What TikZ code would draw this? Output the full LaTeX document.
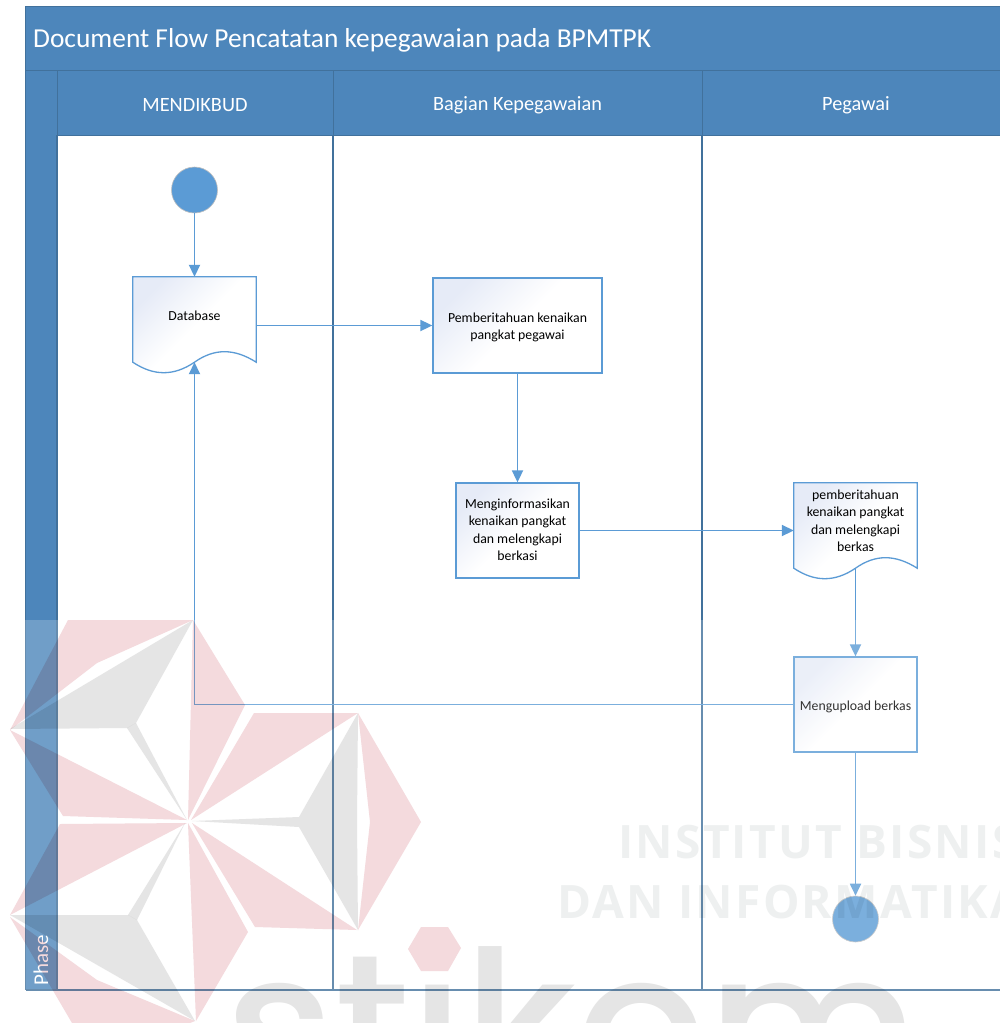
\documentclass[tikz,border=0pt]{standalone}
\usepackage{fontspec}
\setmainfont{Carlito}
\newfontfamily\wmfont[LetterSpace=5]{Open Sans}
\newfontfamily\stfont[UprightFont={* Medium}]{Poppins}
\usetikzlibrary{arrows.meta,calc}
\definecolor{band}{HTML}{4D86BB}
\definecolor{edge}{HTML}{41719C}
\definecolor{conn}{HTML}{5B9BD5}
\definecolor{wmpink}{HTML}{F4DADD}
\definecolor{wmgray}{HTML}{E5E5E5}
\definecolor{wmtext}{HTML}{EEF0F0}
\definecolor{boxtint}{HTML}{E6EBF7}
\newcommand{\tl}[2]{\raisebox{#1}[\height][\depth]{\begin{tabular}{@{}c@{}}#2\end{tabular}}}
\tikzset{
 x=1pt,y=-1pt,
 lane/.style={draw=edge,line width=1.3pt},
 bandfill/.style={fill=band,draw=edge,line width=1pt},
 headtext/.style={text=white,font=\fontsize{20.3}{22}\selectfont,inner sep=0pt},
 conn line/.style={draw=conn,line width=1.8pt,-{Triangle[width=11pt,length=12pt]}},
 proc/.style={rectangle,draw=conn,line width=1.3pt,minimum width=#1,minimum height=95pt,inner sep=0pt,align=center,
   font=\fontsize{13.8}{17.5}\selectfont,path picture={\shade[top color=boxtint,bottom color=white,middle color=white,shading angle=45]
   (path picture bounding box.south west) rectangle (path picture bounding box.north east);}},
 docnode/.style={rectangle,minimum width=123pt,minimum height=85pt,inner sep=0pt,align=center,font=\fontsize{13.8}{17.5}\selectfont},
 docshape/.style={draw=conn,line width=1.3pt,top color=boxtint,bottom color=white,middle color=white,shading angle=45},
 term/.style={circle,minimum size=46pt,inner sep=0pt,fill=conn,draw=gray!50,line width=.6pt},
 wmp/.style={fill=wmpink,draw=none},
 wmg/.style={fill=wmgray,draw=none},
}
\newcommand{\docpath}[1]{%
 (#1.north west) -- (#1.north east) -- (#1.south east)
 .. controls ($(#1.south east)+(-22,-14)$) and ($(#1.south east)+(-42,-14)$) .. (#1.south)
 .. controls ($(#1.south west)+(41,14)$) and ($(#1.south west)+(21,14)$) .. (#1.south west) -- cycle}
\begin{document}
\begin{tikzpicture}
\useasboundingbox (0,0) rectangle (1000,1023);
\fill[white] (0,0) rectangle (1000,1023);
% swimlane frame
\fill[band] (25.5,6) rectangle (57,990);
\draw[bandfill] (25.5,6) rectangle (1001,70);
\draw[bandfill] (57,70) rectangle (333,135);
\draw[bandfill] (333,70) rectangle (702,135);
\draw[bandfill] (702,70) rectangle (1001,135);
\draw[lane] (57,135) -- (57,990);
\draw[lane] (333,135) -- (333,990);
\draw[lane] (702,135) -- (702,990);
\draw[lane] (25.5,990) -- (1001,990);
\draw[edge,line width=.8pt] (25.5,70) -- (25.5,990);
\node[headtext,anchor=base west,font=\fontsize{27.4}{29}\selectfont] (title) at (33,47) {Document Flow Pencatatan kepegawaian pada BPMTPK};
\node[headtext] (h1) at (195,105) {MENDIKBUD};
\node[headtext] (h2) at (517.5,105) {Bagian Kepegawaian};
\node[headtext] (h3) at (856,105) {Pegawai};
\node[headtext,rotate=90,anchor=base west,font=\fontsize{21}{22}\selectfont] (phase) at (48,986) {Phase};
% nodes
\node[term] (start) at (194.5,190) {};
\node[docnode] (db) at (194.5,319.5) {};
\node[proc=169pt] (b1) at (517.5,325.5) {\tl{-2pt}{Pemberitahuan kenaikan\\pangkat pegawai}};
\node[proc=123pt] (b2) at (517.5,530.5) {\tl{-.5pt}{Menginformasikan\\kenaikan pangkat\\dan melengkapi\\berkasi}};
\node[docnode] (d2) at (855.5,525.5) {};
\node[proc=123pt] (b3) at (855.5,704.5) {\tl{-2pt}{Mengupload berkas}};
\node[term] (end) at (855.5,919) {};
\shade[docshape] \docpath{db};
\shade[docshape] \docpath{d2};
\node[docnode] (dbt) at (db) {\tl{3pt}{Database}};
\node[docnode] (d2t) at (d2) {\tl{3.5pt}{pemberitahuan\\kenaikan pangkat\\dan melengkapi\\berkas}};
% connectors
\draw[conn line] (start) -- (db.north);
\draw[conn line] (b1.west -| db.east) -- (b1.west);
\draw[conn line] (b1) -- (b2);
\draw[conn line] (b2.east) -- (b2.east -| d2.west);
\draw[conn line] (d2.south) -- (b3.north);
\draw[conn line] (b3) -- (end);
\draw[conn line] (b3.west) -| (db.south);
% watermark
\fill[white,opacity=.2] (0,620) rectangle (1000,1023);
\begin{scope}
\clip (0,0) rectangle (1000,1023);
\begin{scope}[blend mode=multiply]
\node[anchor=base west,inner sep=0pt,text=wmgray,font=\stfont\fontsize{204}{204}\selectfont] (wmst) at (225,1097) {stikom};
\end{scope}
\fill[white] (421,927) -- (448,927) -- (461,948) -- (448,971) -- (421,971) -- (408,949) -- cycle;
\end{scope}
\begin{scope}[blend mode=multiply]
\fill[wmp] (68,620) -- (193,620) -- (97,663) -- (10,730) -- cycle;
\fill[wmg] (193,620) -- (10,729) -- (127,728) -- (136,723) -- cycle;
\fill[wmp] (10,730) -- (187,820) -- (63,816) -- cycle;
\fill[wmg] (127,728) -- (187,820) -- (136,723) -- cycle;
\fill[wmp] (193,620) -- (245,705) -- (188,820) -- cycle;
\fill[wmp] (254,713) -- (358,713) -- (191,820) -- cycle;
\fill[wmg] (358,713) -- (299,817) -- (192,821) -- (299,827) -- (358,930) -- (357,822) -- cycle;
\fill[wmp] (358,713) -- (421,822) -- (358,930) -- (370,822) -- cycle;
\fill[wmp] (192,823) -- (357,930) -- (255,927) -- cycle;
\fill[wmp] (60,824) -- (187,823) -- (10,915) -- cycle;
\fill[wmg] (128,915) -- (185,823) -- (137,920) -- cycle;
\fill[wmg] (10,915) -- (128,915) -- (137,920) -- (195,1021) -- cycle;
\fill[wmp] (10,917) -- (97,980) -- (195,1021) -- (190,1023) -- (72,1023) -- cycle;
\fill[wmp] (188,823) -- (248,932) -- (196,1021) -- cycle;
\fill[wmp] (421,927) -- (448,927) -- (461,948) -- (448,971) -- (421,971) -- (408,949) -- cycle;
\begin{scope}
\clip (0,0) rectangle (1000,1023);
\node[anchor=base west,inner sep=0pt,text=wmtext,font=\wmfont\bfseries\fontsize{46}{46}\selectfont] (wm1) at (618,858) {INSTITUT BISNIS};
\node[anchor=base west,inner sep=0pt,text=wmtext,font=\wmfont\bfseries\fontsize{46}{46}\selectfont] (wm2) at (557,918) {DAN INFORMATIKA};
\end{scope}
\end{scope}
\end{tikzpicture}
\end{document}
